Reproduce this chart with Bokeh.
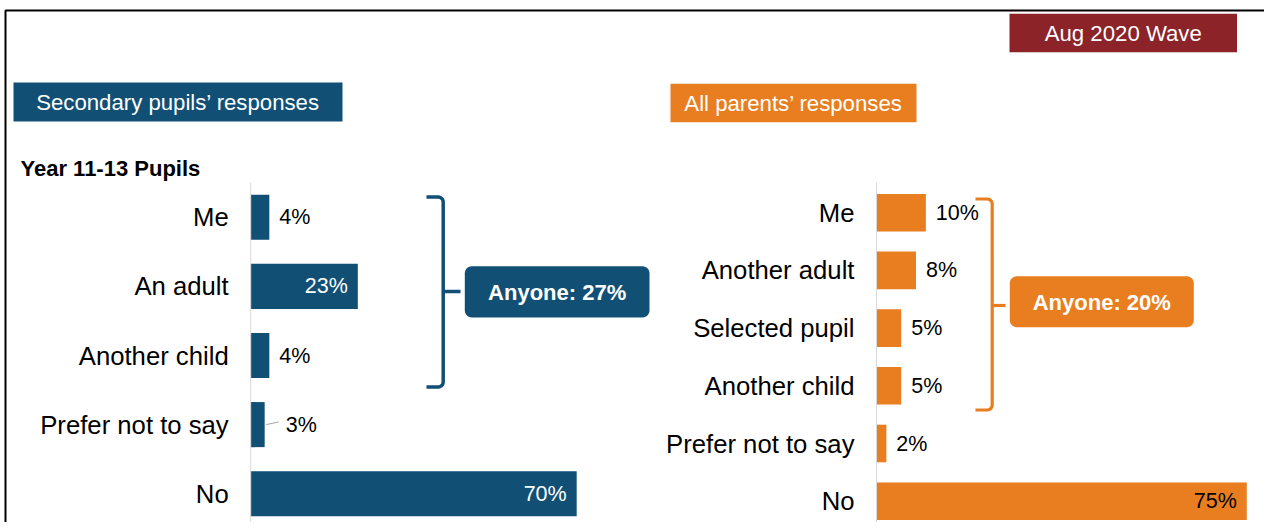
import numpy as np
from bokeh.plotting import figure
from bokeh.models import Range1d, ColumnDataSource
from bokeh.core.properties import value
from bokeh.embed import file_html
from bokeh.resources import INLINE

# ---------------- data ----------------
wave_label = "Aug 2020 Wave"

left_title = "Secondary pupils’ responses"
left_subtitle = "Year 11-13 Pupils"
left_categories = ["Me", "An adult", "Another child", "Prefer not to say", "No"]
left_values = [4, 23, 4, 3, 70]
left_anyone_label = "Anyone: 27%"

right_title = "All parents’ responses"
right_categories = ["Me", "Another adult", "Selected pupil", "Another child",
                    "Prefer not to say", "No"]
right_values = [10, 8, 5, 5, 2, 75]
right_anyone_label = "Anyone: 20%"

# ---------------- style ----------------
BLUE = "#114F74"
ORANGE = "#E87E20"
RED = "#8B2329"
AXIS_GREY = "#D9D9D9"
FONT = "Liberation Sans"

W, H = 1264, 522          # figure size; pixel coords 0..W, 0..H (y downwards)

p = figure(width=W, height=H,
           x_range=Range1d(0, W), y_range=Range1d(H, 0),
           output_backend="svg", toolbar_location=None,
           x_axis_type=None, y_axis_type=None, min_border=0,
           outline_line_color=None, background_fill_color="white",
           border_fill_color="white")


def panel_ranges(axis_px, px_per_pct, row0_px, row_step):
    xr = Range1d((0 - axis_px) / px_per_pct, (W - axis_px) / px_per_pct)
    yr = Range1d((H - row0_px) / row_step, (0 - row0_px) / row_step)
    return xr, yr


L = dict(axis=250.2, ppp=4.657, row0=216.8, step=69.1)
R = dict(axis=876.0, ppp=4.937, row0=212.2, step=57.7)
lxr, lyr = panel_ranges(L["axis"], L["ppp"], L["row0"], L["step"])
rxr, ryr = panel_ranges(R["axis"], R["ppp"], R["row0"], R["step"])
p.extra_x_ranges = {"lx": lxr, "rx": rxr}
p.extra_y_ranges = {"ly": lyr, "ry": ryr}

txt = dict(text_font=value(FONT), text_baseline="middle")
CAT_SIZE = value("25.7px")
VAL_SIZE = value("21.5px")


def draw_panel(cats, vals, color, xname, yname, geo, inside_color, leader_rows):
    n = len(cats)
    rows = list(range(n))
    src = ColumnDataSource(dict(y=rows, v=vals, cat=cats))
    p.hbar(y="y", left=0, right="v", height=0.652, source=src,
           fill_color=color, line_color=None,
           x_range_name=xname, y_range_name=yname)
    # axis line
    p.segment(x0=0, x1=0, y0=182, y1=H, line_color=AXIS_GREY,
              line_width=1, x_range_name=xname)
    # category labels
    p.text(x=0, y="y", text="cat", source=src, x_offset=-22,
           text_align="right", text_font_size=CAT_SIZE,
           text_color="#000000", x_range_name=xname, y_range_name=yname, **txt)
    # value labels
    ins = [i for i in rows if vals[i] >= 20]
    outs = [i for i in rows if vals[i] < 20 and i not in leader_rows]
    lead = [i for i in rows if i in leader_rows]
    if ins:
        p.text(x=[vals[i] for i in ins], y=ins,
               text=[f"{vals[i]}%" for i in ins], x_offset=-10,
               text_align="right", text_font_size=VAL_SIZE,
               text_color=inside_color, x_range_name=xname, y_range_name=yname, **txt)
    if outs:
        p.text(x=[vals[i] for i in outs], y=outs,
               text=[f"{vals[i]}%" for i in outs], x_offset=10,
               text_align="left", text_font_size=VAL_SIZE,
               text_color="#000000", x_range_name=xname, y_range_name=yname, **txt)
    if lead:
        p.text(x=[vals[i] for i in lead], y=lead,
               text=[f"{vals[i]}%" for i in lead], x_offset=21,
               text_align="left", text_font_size=VAL_SIZE,
               text_color="#000000", x_range_name=xname, y_range_name=yname, **txt)
        p.segment(x0=[vals[i] + 1.5 / geo["ppp"] for i in lead],
                  x1=[vals[i] + 14 / geo["ppp"] for i in lead],
                  y0=[i for i in lead],
                  y1=[i - 2.6 / geo["step"] for i in lead],
                  line_color="#A6A6A6", line_width=1,
                  x_range_name=xname, y_range_name=yname)


draw_panel(left_categories, left_values, BLUE, "lx", "ly", L, "white", [3])
draw_panel(right_categories, right_values, ORANGE, "rx", "ry", R, "#000000", [])


# ---------------- decorations (pixel coordinates) ----------------
def title_box(x0, x1, y0, y1, fill, label):
    p.quad(left=x0, right=x1, top=y0, bottom=y1, fill_color=fill, line_color=None)
    p.text(x=[(x0 + x1) / 2], y=[(y0 + y1) / 2 + 0.5], text=[label],
           text_align="center", text_font_size=value("22.2px"),
           text_color="white", **txt)


title_box(1009, 1236.5, 13.3, 51.7, RED, wave_label)
title_box(13, 342, 82, 121, BLUE, left_title)
title_box(670, 916, 83.3, 121.7, ORANGE, right_title)

p.text(x=[20], y=[167.5], text=[left_subtitle], text_align="left",
       text_font_size=value("22px"), text_font_style="bold",
       text_color="#000000", **txt)


def rounded(x0, y0, x1, y1, r, n=8):
    xs, ys = [], []
    corners = [(x1 - r, y0 + r, -90, 0), (x1 - r, y1 - r, 0, 90),
               (x0 + r, y1 - r, 90, 180), (x0 + r, y0 + r, 180, 270)]
    for cx, cy, a0, a1 in corners:
        for a in np.linspace(np.radians(a0), np.radians(a1), n):
            xs.append(cx + r * np.cos(a))
            ys.append(cy + r * np.sin(a))
    return xs, ys


def anyone_box(x0, x1, y0, y1, fill, label):
    xs, ys = rounded(x0, y0, x1, y1, 7)
    p.patch(xs, ys, fill_color=fill, line_color=None)
    p.text(x=[(x0 + x1) / 2], y=[(y0 + y1) / 2 + 0.5], text=[label],
           text_align="center", text_font_size=value("22px"),
           text_font_style="bold", text_color="white", **txt)


def bracket(x, yt, yb, hook_left, tick_y, tick_right, color, lw):
    r = 5.0
    ang = np.radians(np.linspace(90, 0, 6))
    top_x = [hook_left] + list(x - r + r * np.cos(ang))
    top_y = [yt] + list(yt + r - r * np.sin(ang))
    ang2 = np.radians(np.linspace(0, -90, 6))
    bot_x = list(x - r + r * np.cos(ang2)) + [hook_left]
    bot_y = list(yb - r - r * np.sin(ang2)) + [yb]
    p.line(top_x + bot_x, top_y + bot_y, line_color=color, line_width=lw,
           line_join="round")
    p.line([x, tick_right], [tick_y, tick_y], line_color=color, line_width=lw)


bracket(442.7, 196.5, 386.5, 426, 291, 460, BLUE, 3.5)
anyone_box(464.3, 649, 265.7, 317, BLUE, left_anyone_label)

bracket(991.7, 198.5, 409.5, 975, 305, 1005, ORANGE, 3.2)
anyone_box(1009.3, 1193.3, 275.7, 326.7, ORANGE, right_anyone_label)

# frame border (top and left)
p.line([5, 5, W], [H, 10, 10], line_color="#000000", line_width=2)

open("out.html", "w").write(file_html(p, INLINE))
